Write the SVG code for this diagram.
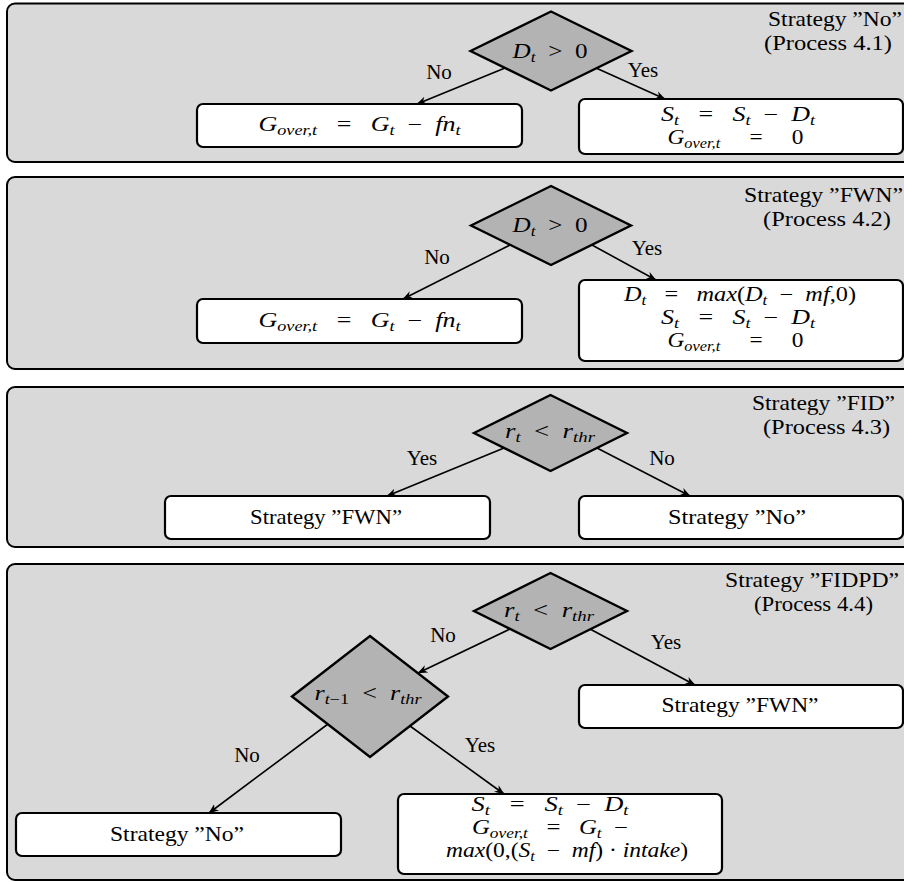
<svg xmlns="http://www.w3.org/2000/svg" width="904" height="882" viewBox="0 0 904 882" font-family="'Liberation Serif', 'Times New Roman', serif" font-size="21">
<defs>
<style>
.panel{fill:#d9d9d9;stroke:#000;stroke-width:2}
.box{fill:#fff;stroke:#000;stroke-width:2.2}
.dia{fill:#b3b3b3;stroke:#000;stroke-width:2.4}
.conn line{stroke:#000;stroke-width:1.6;marker-end:url(#ah)}
.m{font-style:italic;font-size:20px}
.u{font-style:normal}
.s{font-size:14px}
.c{text-anchor:middle}
</style>
<marker id="ah" viewBox="0 0 10 10" refX="9.5" refY="5" markerWidth="10" markerHeight="10" markerUnits="userSpaceOnUse" orient="auto">
<path d="M0,1 L10,5 L0,9 L3,5 Z" fill="#000"/>
</marker>
</defs>

<!-- Panel 1 -->
<g id="panel1">
<rect class="panel" x="7" y="3.5" width="910" height="158.5" rx="8"/>
<text class="c" x="835" y="26" textLength="134" lengthAdjust="spacingAndGlyphs">Strategy ”No”</text>
<text class="c" x="828" y="50" textLength="128" lengthAdjust="spacingAndGlyphs">(Process 4.1)</text>
</g>
<g id="p1_dec">
<polygon class="dia" points="470.5,51 551,11.5 631.5,51 551,90.5"/>
<text class="m c" x="550" y="58" textLength="75" lengthAdjust="spacingAndGlyphs">D<tspan class="s" dy="3.5">t</tspan><tspan class="u" dy="-3.5">&#8194;&gt;&#8194;0</tspan></text>
</g>
<g id="p1_no">
<rect class="box" x="197" y="104" width="325" height="43" rx="6"/>
<text class="m c" x="359.5" y="131" textLength="202" lengthAdjust="spacingAndGlyphs">G<tspan class="s" dy="3.5">over,t</tspan><tspan class="u" dy="-3.5"> &#8194;=&#8194; </tspan>G<tspan class="s" dy="3.5">t</tspan><tspan class="u" dy="-3.5">&#8194;−&#8194;</tspan>fn<tspan class="s" dy="3.5">t</tspan></text>
</g>
<g id="p1_yes">
<rect class="box" x="579" y="99" width="324" height="55" rx="6"/>
<text class="m c" x="738" y="121" textLength="154" lengthAdjust="spacingAndGlyphs">S<tspan class="s" dy="3.5">t</tspan><tspan class="u" dy="-3.5"> &#8194;=&#8194; </tspan>S<tspan class="s" dy="3.5">t</tspan><tspan class="u" dy="-3.5">&#8194;−&#8194;</tspan>D<tspan class="s" dy="3.5">t</tspan></text>
<text class="m c" x="735.5" y="144" textLength="136" lengthAdjust="spacingAndGlyphs">G<tspan class="s" dy="3.5">over,t</tspan><tspan class="u" dy="-3.5"> &#8194;&#8194;=&#8194;&#8194; 0</tspan></text>
</g>

<!-- Panel 2 -->
<g id="panel2">
<rect class="panel" x="7" y="177" width="910" height="192" rx="8"/>
<text class="c" x="823.5" y="202" textLength="159" lengthAdjust="spacingAndGlyphs">Strategy ”FWN”</text>
<text class="c" x="827" y="226" textLength="128" lengthAdjust="spacingAndGlyphs">(Process 4.2)</text>
</g>
<g id="p2_dec">
<polygon class="dia" points="471,225.5 551,186 631,225.5 551,265"/>
<text class="m c" x="550" y="232" textLength="75" lengthAdjust="spacingAndGlyphs">D<tspan class="s" dy="3.5">t</tspan><tspan class="u" dy="-3.5">&#8194;&gt;&#8194;0</tspan></text>
</g>
<g id="p2_no">
<rect class="box" x="197" y="299" width="325" height="44" rx="6"/>
<text class="m c" x="359.5" y="327" textLength="202" lengthAdjust="spacingAndGlyphs">G<tspan class="s" dy="3.5">over,t</tspan><tspan class="u" dy="-3.5"> &#8194;=&#8194; </tspan>G<tspan class="s" dy="3.5">t</tspan><tspan class="u" dy="-3.5">&#8194;−&#8194;</tspan>fn<tspan class="s" dy="3.5">t</tspan></text>
</g>
<g id="p2_yes">
<rect class="box" x="579" y="280" width="324" height="81" rx="6"/>
<text class="m c" x="740" y="301" textLength="232" lengthAdjust="spacingAndGlyphs">D<tspan class="s" dy="3.5">t</tspan><tspan class="u" dy="-3.5"> &#8194;=&#8194; </tspan>max<tspan class="u">(</tspan>D<tspan class="s" dy="3.5">t</tspan><tspan class="u" dy="-3.5">&#8194;−&#8194;</tspan>mf<tspan class="u">,0)</tspan></text>
<text class="m c" x="738" y="324" textLength="154" lengthAdjust="spacingAndGlyphs">S<tspan class="s" dy="3.5">t</tspan><tspan class="u" dy="-3.5"> &#8194;=&#8194; </tspan>S<tspan class="s" dy="3.5">t</tspan><tspan class="u" dy="-3.5">&#8194;−&#8194;</tspan>D<tspan class="s" dy="3.5">t</tspan></text>
<text class="m c" x="735.5" y="347" textLength="136" lengthAdjust="spacingAndGlyphs">G<tspan class="s" dy="3.5">over,t</tspan><tspan class="u" dy="-3.5"> &#8194;&#8194;=&#8194;&#8194; 0</tspan></text>
</g>

<!-- Panel 3 -->
<g id="panel3">
<rect class="panel" x="7" y="387" width="910" height="160" rx="8"/>
<text class="c" x="823.5" y="410" textLength="143" lengthAdjust="spacingAndGlyphs">Strategy ”FID”</text>
<text class="c" x="826.5" y="434" textLength="127" lengthAdjust="spacingAndGlyphs">(Process 4.3)</text>
</g>
<g id="p3_dec">
<polygon class="dia" points="474,433 550.5,395 627,433 550.5,471"/>
<text class="m c" x="550" y="438" textLength="90" lengthAdjust="spacingAndGlyphs">r<tspan class="s" dy="3.5">t</tspan><tspan class="u" dy="-3.5">&#8194;&lt;&#8194;</tspan>r<tspan class="s" dy="3.5">thr</tspan></text>
</g>
<g id="p3_fwn">
<rect class="box" x="165" y="496" width="325" height="43" rx="6"/>
<text class="c" x="326" y="524" textLength="152" lengthAdjust="spacingAndGlyphs">Strategy ”FWN”</text>
</g>
<g id="p3_no">
<rect class="box" x="579" y="496" width="324" height="43" rx="6"/>
<text class="c" x="737" y="524" textLength="138" lengthAdjust="spacingAndGlyphs">Strategy ”No”</text>
</g>

<!-- Panel 4 -->
<g id="panel4">
<rect class="panel" x="7" y="564" width="910" height="316" rx="8"/>
<text class="c" x="812" y="587" textLength="174" lengthAdjust="spacingAndGlyphs">Strategy ”FIDPD”</text>
<text class="c" x="813.5" y="611" textLength="119" lengthAdjust="spacingAndGlyphs">(Process 4.4)</text>
</g>
<g id="p4_decA">
<polygon class="dia" points="474,611 550.5,573 627,611 550.5,649"/>
<text class="m c" x="549" y="617" textLength="90" lengthAdjust="spacingAndGlyphs">r<tspan class="s" dy="3.5">t</tspan><tspan class="u" dy="-3.5">&#8194;&lt;&#8194;</tspan>r<tspan class="s" dy="3.5">thr</tspan></text>
</g>
<g id="p4_decB">
<polygon class="dia" points="292,696.5 370,636 448,696.5 370,757"/>
<text class="m c" x="368" y="700" textLength="107" lengthAdjust="spacingAndGlyphs">r<tspan class="s" dy="3.5">t<tspan class="u">−1</tspan></tspan><tspan class="u" dy="-3.5">&#8194;&lt;&#8194;</tspan>r<tspan class="s" dy="3.5">thr</tspan></text>
</g>
<g id="p4_fwn">
<rect class="box" x="579" y="685" width="324" height="43" rx="6"/>
<text class="c" x="740" y="712" textLength="157" lengthAdjust="spacingAndGlyphs">Strategy ”FWN”</text>
</g>
<g id="p4_no">
<rect class="box" x="16" y="813" width="325" height="43" rx="6"/>
<text class="c" x="177" y="841" textLength="134" lengthAdjust="spacingAndGlyphs">Strategy ”No”</text>
</g>
<g id="p4_yes">
<rect class="box" x="398" y="794" width="324" height="80" rx="6"/>
<text class="m c" x="550" y="811" textLength="157" lengthAdjust="spacingAndGlyphs">S<tspan class="s" dy="3.5">t</tspan><tspan class="u" dy="-3.5"> &#8194;=&#8194; </tspan>S<tspan class="s" dy="3.5">t</tspan><tspan class="u" dy="-3.5">&#8194;−&#8194;</tspan>D<tspan class="s" dy="3.5">t</tspan></text>
<text class="m c" x="550" y="834" textLength="156" lengthAdjust="spacingAndGlyphs">G<tspan class="s" dy="3.5">over,t</tspan><tspan class="u" dy="-3.5"> &#8194;=&#8194; </tspan>G<tspan class="s" dy="3.5">t</tspan><tspan class="u" dy="-3.5">&#8194;−</tspan></text>
<text class="m c" x="567" y="857" textLength="242" lengthAdjust="spacingAndGlyphs">max<tspan class="u">(0,(</tspan>S<tspan class="s" dy="3.5">t</tspan><tspan class="u" dy="-3.5">&#8194;−&#8194;</tspan>mf<tspan class="u">) · </tspan>intake<tspan class="u">)</tspan></text>
</g>

<!-- Connectors -->
<g id="connectors" class="conn">
<line x1="505" y1="68" x2="417" y2="104"/>
<line x1="596" y1="68" x2="665" y2="99"/>
<line x1="510" y1="245" x2="403" y2="299"/>
<line x1="592" y1="245" x2="656" y2="280"/>
<line x1="504" y1="448" x2="387" y2="496"/>
<line x1="597" y1="448" x2="690" y2="496"/>
<line x1="510" y1="629" x2="418" y2="673"/>
<line x1="590" y1="629" x2="695" y2="685"/>
<line x1="328" y1="724" x2="209" y2="813"/>
<line x1="410" y1="726" x2="504" y2="794"/>
</g>
<g id="labels">
<text class="c" x="439" y="79">No</text>
<text class="c" x="643" y="77">Yes</text>
<text class="c" x="437" y="264">No</text>
<text class="c" x="647" y="255">Yes</text>
<text class="c" x="422" y="465">Yes</text>
<text class="c" x="662" y="465">No</text>
<text class="c" x="443" y="642">No</text>
<text class="c" x="666" y="649">Yes</text>
<text class="c" x="247" y="762">No</text>
<text class="c" x="480" y="752">Yes</text>
</g>
</svg>
